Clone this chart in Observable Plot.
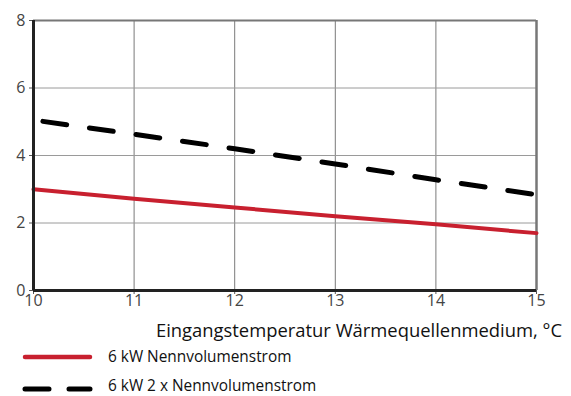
<!DOCTYPE html>
<html>
<head>
<meta charset="utf-8">
<script src="https://cdn.jsdelivr.net/npm/d3@7"></script>
<script src="https://cdn.jsdelivr.net/npm/@observablehq/plot@0.6"></script>
<style>
  html, body { margin: 0; padding: 0; background: #fff; }
  body { width: 571px; height: 396px; overflow: hidden; font-family: "Open Sans", sans-serif; }
  #xlabel { height: 28px; padding-top: 4px; font-size: 18.4px; color: #111; text-align: right; padding-right: 9px; line-height: 28px; white-space: nowrap; }
  #legend { position: relative; height: 52px; }
  .item { position: absolute; left: 0; height: 16px; width: 571px; }
  .item svg { position: absolute; left: 0; top: 0; }
  .item span { position: absolute; left: 108px; line-height: 14px; font-size: 15.4px; color: #111; white-space: nowrap; }
</style>
</head>
<body>
<div id="chart"></div>
<div id="xlabel"></div>
<div id="legend"></div>
<script>
const temps = [10, 11, 12, 13, 14, 15];
const nominal = [3.0, 2.72, 2.46, 2.2, 1.96, 1.7];
const doubleFlow = [5.05, 4.63, 4.2, 3.75, 3.28, 2.84];
const seriesNames = ["6 kW Nennvolumenstrom", "6 kW 2 x Nennvolumenstrom"];
const xTicks = [10, 11, 12, 13, 14, 15];
const yTicks = [0, 2, 4, 6, 8];
const xLabel = "Eingangstemperatur Wärmequellenmedium, °C";

const red = "#c8202f";
const font = "'Open Sans', sans-serif";
const nomData = temps.map((t, i) => ({x: t, y: nominal[i]}));
const dblData = temps.map((t, i) => ({x: t, y: doubleFlow[i]}));

const chart = Plot.plot({
  width: 571,
  height: 312,
  marginLeft: 33,
  marginRight: 35,
  marginTop: 20,
  marginBottom: 22,
  style: {fontFamily: font, background: "#fff"},
  x: {domain: [10, 15], label: null},
  y: {domain: [0, 8], label: null},
  marks: [
    Plot.ruleX(xTicks.slice(1, -1), {stroke: "#7a7a7a", strokeWidth: 1}),
    Plot.ruleY(yTicks.slice(1, -1), {stroke: "#9a9a9a", strokeWidth: 1}),
    Plot.ruleY([8], {stroke: "#777", strokeWidth: 2}),
    Plot.ruleX([15], {stroke: "#777", strokeWidth: 2.5}),
    Plot.axisX({ticks: xTicks, tickFormat: d3.format("d"), tickSize: 4, tickPadding: 0, fontSize: 16, fill: "#444", stroke: "#555", label: null}),
    Plot.axisY({ticks: yTicks, tickFormat: d3.format("d"), tickSize: 4, tickPadding: 4, fontSize: 16, fill: "#444", stroke: "#555", label: null}),
    Plot.line(nomData, {x: "x", y: "y", stroke: red, strokeWidth: 4}),
    Plot.line(dblData, {x: "x", y: "y", stroke: "#000", strokeWidth: 5, strokeDasharray: "24,23", strokeDashoffset: 37.5, strokeLinecap: "round"}),
    Plot.ruleX([10], {stroke: "#222", strokeWidth: 3}),
    Plot.ruleY([0], {stroke: "#222", strokeWidth: 3})
  ]
});
document.getElementById("chart").appendChild(chart);
document.getElementById("xlabel").textContent = xLabel;

const legend = document.getElementById("legend");
const styles = [
  {stroke: red, width: 4.5, dash: null, top: 5, textTop: 1},
  {stroke: "#000", width: 5, dash: "24,20", top: 37, textTop: -2}
];
seriesNames.forEach((name, i) => {
  const s = styles[i];
  const div = document.createElement("div");
  div.className = "item";
  div.style.top = s.top + "px";
  div.innerHTML = `<svg width="100" height="16"><line x1="25" x2="90" y1="8" y2="8" stroke="${s.stroke}" stroke-width="${s.width}" stroke-linecap="round" ${s.dash ? `stroke-dasharray="${s.dash}"` : ""}/></svg><span style="top:${s.textTop}px">${name}</span>`;
  legend.appendChild(div);
});
</script>
</body>
</html>
